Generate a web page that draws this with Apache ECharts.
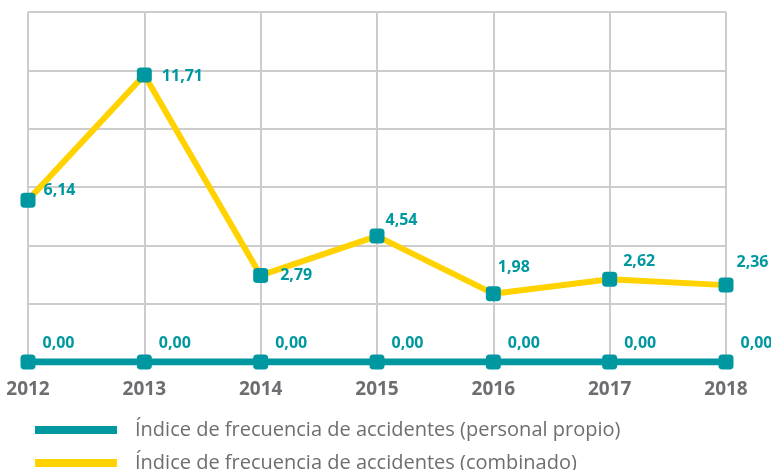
<!DOCTYPE html>
<html>
<head>
<meta charset="utf-8">
<script src="https://cdn.jsdelivr.net/npm/echarts@6/dist/echarts.min.js"></script>
<style>
  html, body { margin: 0; padding: 0; background: #fff; }
  #chart { width: 771px; height: 470px; }
</style>
</head>
<body>
<div id="chart"></div>
<script>
  // datos
  var years = ['2012', '2013', '2014', '2015', '2016', '2017', '2018'];
  var propio = [0, 0, 0, 0, 0, 0, 0];
  var combinado = [6.14, 11.71, 2.79, 4.54, 1.98, 2.62, 2.36];
  var nombrePropio = 'Índice de frecuencia de accidentes (personal propio)';
  var nombreCombinado = 'Índice de frecuencia de accidentes (combinado)';

  // desplazamiento de cada etiqueta amarilla (como en el original)
  var labelShift = [[8, -10], [10, 1], [12, 0], [1, -16], [-3, -26], [6, -18], [3, -23]];

  var teal = '#0098A0';
  var amarillo = '#FFD200';
  var gris = '#6D6E71';

  function fmt(v) {
    return v.toFixed(2).replace('.', ',');
  }

  var combData = [];
  for (var i = 0; i < combinado.length; i++) {
    combData.push({
      value: combinado[i],
      label: { offset: labelShift[i] }
    });
  }

  var option = {
    animation: false,
    grid: { left: 28, right: 45, top: 12, bottom: 108 },
    legend: {
      orient: 'vertical',
      left: 30,
      top: 413,
      height: 120,
      icon: 'rect',
      itemWidth: 82,
      itemHeight: 8,
      itemGap: 9,
      textStyle: {
        fontFamily: 'Open Sans',
        fontSize: 20,
        color: gris,
        lineHeight: 24,
        padding: [0, 0, 0, 13]
      },
      data: [
        { name: nombrePropio, itemStyle: { color: teal } },
        { name: nombreCombinado, itemStyle: { color: amarillo } }
      ]
    },
    xAxis: {
      type: 'category',
      data: years,
      boundaryGap: false,
      axisLine: { show: false },
      axisTick: { show: false },
      axisLabel: {
        margin: 18,
        fontFamily: 'Open Sans',
        fontWeight: 'bold',
        fontSize: 19,
        color: gris
      },
      splitLine: { show: true, lineStyle: { color: '#CCCCCC', width: 2 } }
    },
    yAxis: [
      {
        type: 'value',
        min: 0,
        max: 6,
        interval: 1,
        axisLine: { show: false },
        axisTick: { show: false },
        axisLabel: { show: false },
        splitLine: { show: true, lineStyle: { color: '#CCCCCC', width: 2 } }
      },
      {
        type: 'value',
        min: -1.06,
        max: 14.51,
        show: false,
        splitLine: { show: false }
      }
    ],
    series: [
      {
        name: nombrePropio,
        type: 'line',
        yAxisIndex: 0,
        data: propio,
        symbol: 'roundRect',
        symbolSize: 15,
        itemStyle: { color: teal },
        lineStyle: { color: teal, width: 7 },
        label: {
          show: true,
          position: 'right',
          distance: 7,
          offset: [0, -19],
          fontFamily: 'Open Sans',
          fontWeight: 'bold',
          fontSize: 16,
          color: teal,
          formatter: function (p) { return fmt(p.value); }
        },
        z: 3
      },
      {
        name: nombreCombinado,
        type: 'line',
        yAxisIndex: 1,
        data: combData,
        symbol: 'roundRect',
        symbolSize: 15,
        itemStyle: { color: teal },
        lineStyle: { color: amarillo, width: 6 },
        label: {
          show: true,
          position: 'right',
          distance: 0,
          fontFamily: 'Open Sans',
          fontWeight: 'bold',
          fontSize: 16,
          color: teal,
          formatter: function (p) { return fmt(p.value); }
        },
        z: 4
      }
    ]
  };

  echarts.init(document.getElementById('chart')).setOption(option);
</script>
</body>
</html>
